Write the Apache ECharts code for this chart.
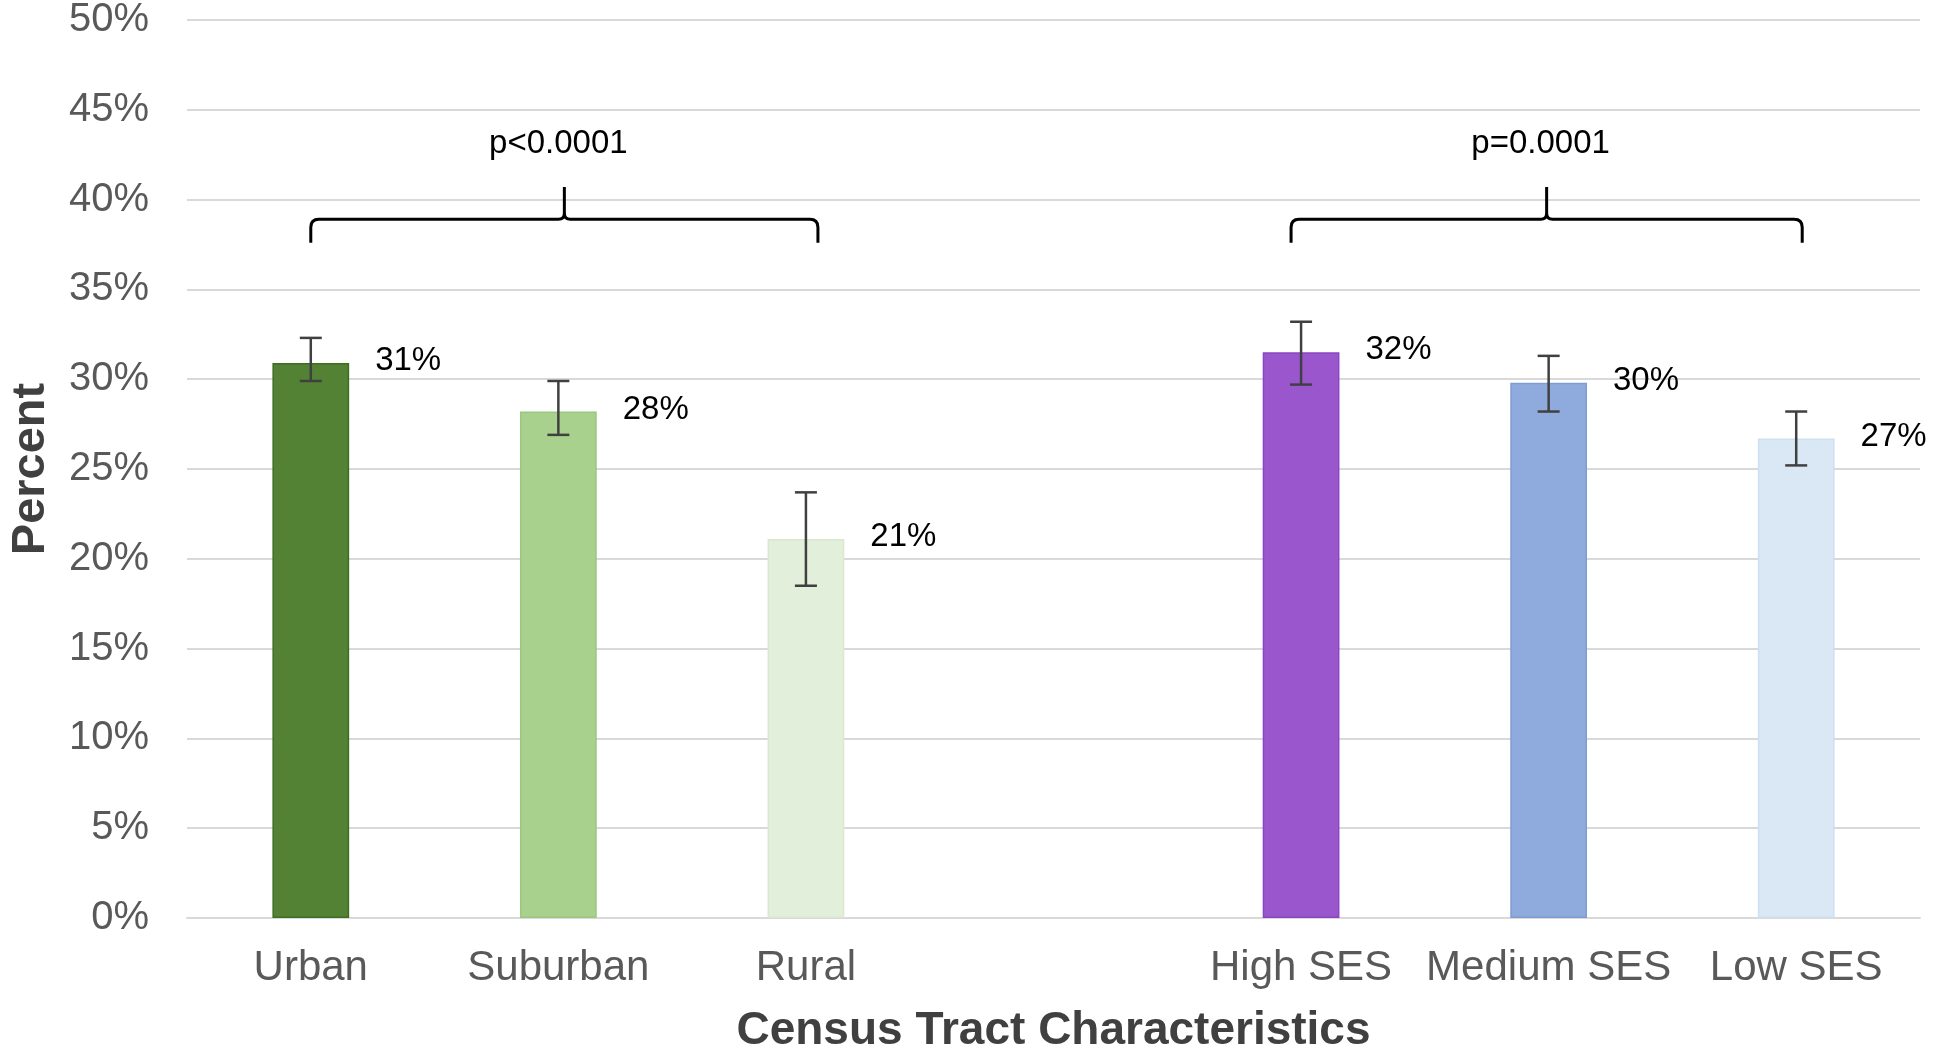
<!DOCTYPE html>
<html>
<head>
<meta charset="utf-8">
<script src="https://cdn.jsdelivr.net/npm/echarts@6/dist/echarts.min.js"></script>
<style>
html,body{margin:0;padding:0;background:#fff;}
#chart{width:1941px;height:1059px;}
</style>
</head>
<body>
<div id="chart"></div>
<script>
// ---- data ----
const categories = ['Urban', 'Suburban', 'Rural', '', 'High SES', 'Medium SES', 'Low SES'];
const values     = [30.9, 28.2, 21.1, null, 31.5, 29.8, 26.7];
const errLow     = [29.9, 26.9, 18.5, null, 29.7, 28.2, 25.2];
const errHigh    = [32.3, 29.9, 23.7, null, 33.2, 31.3, 28.2];
const barColors  = ['#548235', '#A9D18E', '#E2EFDA', null, '#9A57CD', '#8FAADC', '#DAE8F5'];
const barBorders = ['#3E6E22', '#9CC77F', '#D9E8CF', null, '#8A45C2', '#7F9CD4', '#CFDFF0'];
const yTicks     = [0, 5, 10, 15, 20, 25, 30, 35, 40, 45, 50];
const pLabels    = ['p<0.0001', 'p=0.0001'];
const bracketFrom = [0, 4];
const bracketTo   = [2, 6];
const bracketLevel = 38.9;
const bracketTip   = 40.7;
const bracketFoot  = 37.6;
const pLabelLevel  = 43.1;

const FONT = "'Liberation Sans', Arial, sans-serif";

const barData = values.map((v, i) => v == null ? '-' : {
  value: v,
  itemStyle: { color: barColors[i], borderColor: barBorders[i], borderWidth: 1.5 }
});
const errData = [];
values.forEach((v, i) => { if (v != null) errData.push([i, errLow[i], errHigh[i]]); });
const bracketData = pLabels.map((t, k) => [bracketFrom[k], bracketTo[k], bracketLevel, bracketTip, bracketFoot, pLabelLevel]);

const chart = echarts.init(document.getElementById('chart'), null, { renderer: 'canvas' });
chart.setOption({
  backgroundColor: '#ffffff',
  animation: false,
  grid: { left: 180, right: 21, top: 19, bottom: 128, containLabel: false },
  xAxis: {
    type: 'category',
    data: categories,
    axisTick: { show: false },
    axisLine: { show: true, lineStyle: { color: '#D9D9D9', width: 2 } },
    axisLabel: { fontFamily: FONT, fontSize: 42, color: '#595959', margin: 29, interval: 0 },
    name: 'Census Tract Characteristics',
    nameLocation: 'middle',
    nameGap: 90,
    nameTextStyle: { fontFamily: FONT, fontSize: 46, fontWeight: 'bold', color: '#404040' }
  },
  yAxis: {
    type: 'value',
    min: 0, max: 50, interval: 5,
    axisLine: { show: false },
    axisTick: { show: false },
    axisLabel: { fontFamily: FONT, fontSize: 40, color: '#595959', margin: 38, formatter: '{value}%' },
    splitLine: { show: true, lineStyle: { color: '#D9D9D9', width: 2 } },
    name: 'Percent',
    nameLocation: 'middle',
    nameGap: 132,
    nameRotate: 90,
    nameTextStyle: { fontFamily: FONT, fontSize: 47, fontWeight: 'bold', color: '#404040' }
  },
  series: [
    {
      type: 'bar',
      data: barData,
      barWidth: '31%',
      label: {
        show: true,
        position: ['100%', 0],
        offset: [26, -2],
        align: 'left',
        verticalAlign: 'middle',
        fontFamily: FONT,
        fontSize: 33,
        color: '#000000',
        formatter: p => Math.round(p.value) + '%'
      },
      z: 2
    },
    {
      type: 'custom',
      data: errData,
      encode: { x: 0, y: [1, 2] },
      z: 5,
      renderItem: function (params, api) {
        const x = api.value(0);
        const lo = api.coord([x, api.value(1)]);
        const hi = api.coord([x, api.value(2)]);
        const hw = 11;
        const st = { stroke: '#404040', lineWidth: 2.5 };
        return {
          type: 'group',
          children: [
            { type: 'line', shape: { x1: lo[0], y1: lo[1], x2: hi[0], y2: hi[1] }, style: st },
            { type: 'line', shape: { x1: hi[0] - hw, y1: hi[1], x2: hi[0] + hw, y2: hi[1] }, style: st },
            { type: 'line', shape: { x1: lo[0] - hw, y1: lo[1], x2: lo[0] + hw, y2: lo[1] }, style: st }
          ]
        };
      }
    },
    {
      type: 'custom',
      data: bracketData,
      encode: { x: [0, 1], y: [2, 3, 4, 5] },
      z: 5,
      renderItem: function (params, api) {
        const k = params.dataIndex;
        const shiftL = k === 0 ? 0 : -10;
        const shiftR = k === 0 ? 12 : 6;
        const a = api.coord([api.value(0), api.value(2)]);
        const b = api.coord([api.value(1), api.value(2)]);
        const tip = api.coord([api.value(0), api.value(3)])[1];
        const foot = api.coord([api.value(0), api.value(4)])[1];
        const ty = api.coord([api.value(0), api.value(5)])[1];
        const x1 = a[0] + shiftL, x2 = b[0] + shiftR, y = a[1];
        const xm = (x1 + x2) / 2;
        const r = 8, s = 6;
        const d = 'M' + x1 + ' ' + foot +
          ' L' + x1 + ' ' + (y + r) +
          ' Q' + x1 + ' ' + y + ' ' + (x1 + r) + ' ' + y +
          ' L' + (xm - s) + ' ' + y +
          ' Q' + xm + ' ' + y + ' ' + xm + ' ' + (y - s) +
          ' L' + xm + ' ' + tip +
          ' M' + xm + ' ' + (y - s) +
          ' Q' + xm + ' ' + y + ' ' + (xm + s) + ' ' + y +
          ' L' + (x2 - r) + ' ' + y +
          ' Q' + x2 + ' ' + y + ' ' + x2 + ' ' + (y + r) +
          ' L' + x2 + ' ' + foot;
        return {
          type: 'group',
          children: [
            { type: 'path', shape: { pathData: d }, style: { stroke: '#000', lineWidth: 3, fill: null } },
            { type: 'text', x: xm - 6, y: ty, style: { text: pLabels[k], fontFamily: FONT, fontSize: 33, fill: '#000', align: 'center', verticalAlign: 'middle' } }
          ]
        };
      }
    }
  ]
});
</script>
</body>
</html>
